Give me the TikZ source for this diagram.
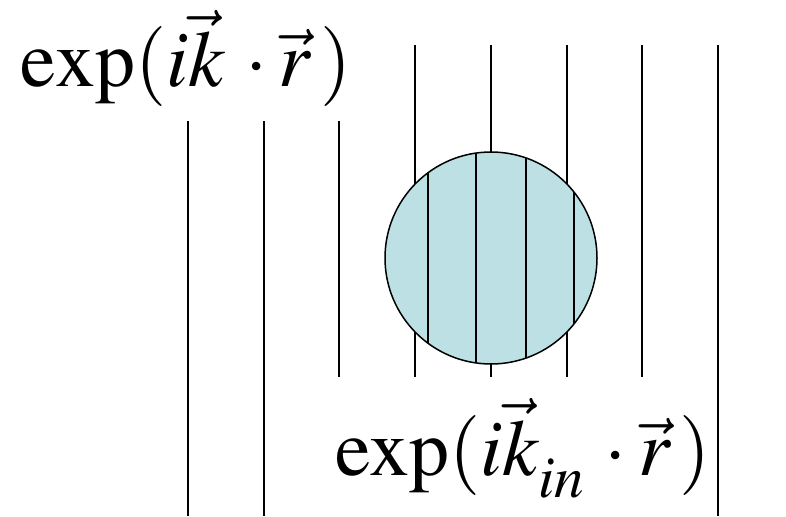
\documentclass[tikz,border=0pt]{standalone}
\usepackage{mathptmx}
\usetikzlibrary{positioning}
\definecolor{scattercyan}{HTML}{BCE0E3}

\begin{document}
\begin{tikzpicture}[
  x=1pt, y=-1pt,
  wave/.style={line width=1.4pt},
  inwave/.style={line width=2pt},
  formula/.style={inner sep=0pt, anchor=base, font=\fontsize{80}{90}\selectfont}
]

\useasboundingbox (0,0) rectangle (786,516);

% ── Plane wave fronts ──
\foreach \xw in {188,264}
  \draw[wave] (\xw,121) -- (\xw,516);
\draw[wave] (339,121) -- (339,377);
\foreach \xw in {415,491,567,642}
  \draw[wave] (\xw,45) -- (\xw,377);
\draw[wave] (718,45) -- (718,516);

% ── Scatterer ──
\coordinate (c) at (491,258);
\fill[scattercyan] (c) circle (106pt);
\begin{scope}
  \clip (c) circle (106pt);
  \foreach \xw in {428,476,526,574}
    \draw[inwave] (\xw,140) -- (\xw,380);
\end{scope}
\draw[line width=1.5pt] (c) circle (106pt);

% ── Labels ──
\node[formula] (kout) at (186,87) {$\exp(i\vec{k}\,\cdot\vec{r}\,)$};
\node[formula] (kin) at (523,475) {$\exp(i\vec{k}_{in}^{}\,\cdot\vec{r}\,)$};

\end{tikzpicture}
\end{document}
